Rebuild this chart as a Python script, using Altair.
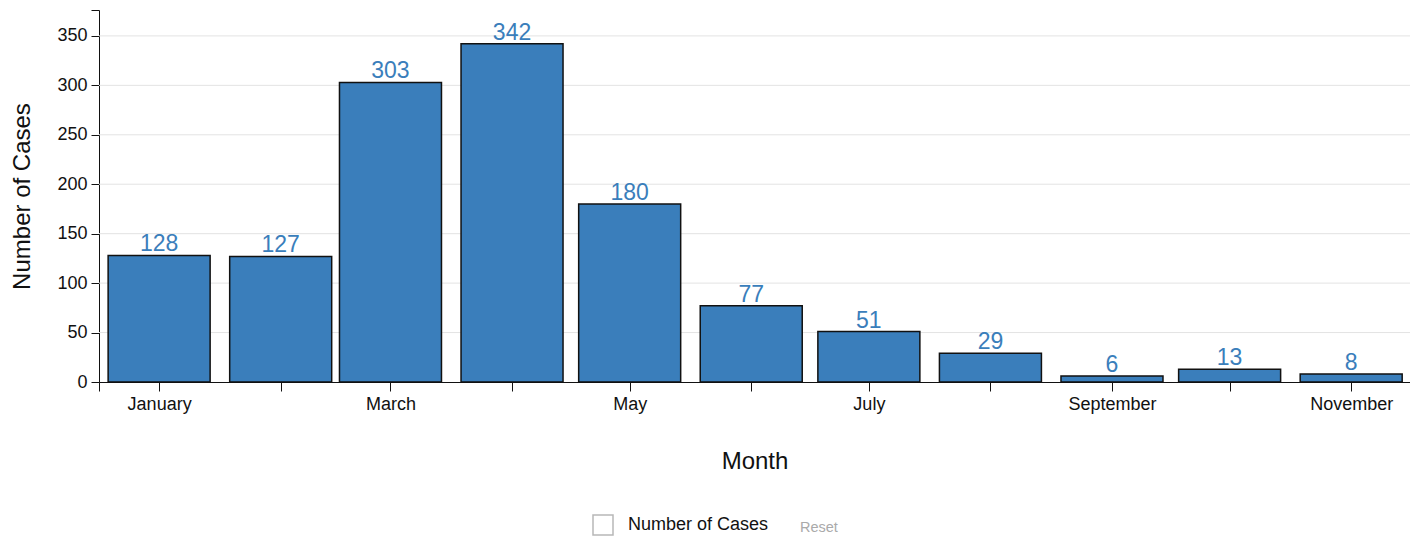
import altair as alt
import pandas as pd

months = ["2019-01-01", "2019-02-01", "2019-03-01", "2019-04-01", "2019-05-01", "2019-06-01",
          "2019-07-01", "2019-08-01", "2019-09-01", "2019-10-01", "2019-11-01"]
cases = [128, 127, 303, 342, 180, 77, 51, 29, 6, 13, 8]
series_name = "Number of Cases"
grid_values = [50, 100, 150, 200, 250, 300, 350]
y_tick_values = [0, 50, 100, 150, 200, 250, 300, 350]

df = pd.DataFrame({"date": months, "cases": cases, "series": [series_name] * len(months)})
grid_df = pd.DataFrame({"g": grid_values})

dom_start = pd.Timestamp("2018-12-16T16:00:00", tz="UTC")
dom_end = pd.Timestamp("2019-11-16T00:00:00", tz="UTC")
to_ms = lambda t: int(t.value // 10**6)
tick_vals = [to_ms(dom_start)] + [to_ms(pd.Timestamp(m, tz="UTC")) for m in months] + [to_ms(dom_end)]

BLUE = "#3a7ebb"
FONT = "Liberation Sans"
INK = "#111111"

x = alt.X(
    "date:T",
    title="Month",
    scale=alt.Scale(type="utc", domain=[to_ms(dom_start), to_ms(dom_end)], nice=False, padding=0),
    axis=alt.Axis(
        values=tick_vals,
        labelExpr="(datum.value > %d && datum.value < %d && utcmonth(datum.value) %% 2 == 0) ? utcFormat(datum.value, '%%B') : ''"
        % (tick_vals[0], tick_vals[-1]),
        grid=False,
        tickSize=9,
        labelPadding=4,
        labelFontSize=18,
        labelColor=INK,
        titleFontSize=24,
        titleFontWeight="normal",
        titlePadding=36,
        titleColor=INK,
        domainColor=INK,
        tickColor=INK,
        labelFont=FONT,
        titleFont=FONT,
        labelFlush=False,
        labelOverlap=False,
    ),
)

ymax = 376.2
y_scale = alt.Scale(domain=[0, ymax], nice=False)
y_axis = alt.Axis(
    values=y_tick_values + [ymax],
    labelExpr="datum.value > 360 ? '' : datum.label",
    grid=False,
    tickSize=8,
    labelPadding=4,
    labelFontSize=18,
    labelColor=INK,
    titleFontSize=24,
    titleFontWeight="normal",
    titlePadding=22,
    titleColor=INK,
    domainColor=INK,
    tickColor=INK,
    labelFont=FONT,
    titleFont=FONT,
)
y = alt.Y("cases:Q", title="Number of Cases", scale=y_scale, axis=y_axis)

grid = alt.Chart(grid_df).mark_rule(color="#e3e3e3", strokeWidth=1).encode(
    y=alt.Y("g:Q", title="Number of Cases", scale=y_scale, axis=y_axis)
)

bars = alt.Chart(df).mark_bar(size=102, stroke=INK, strokeWidth=1.5, fill=BLUE).encode(x=x, y=y)

legend_layer = alt.Chart(df).transform_filter("datum.cases < 0").mark_point(
    filled=False, color="#9a9a9a"
).encode(
    x="date:T",
    y="cases:Q",
    shape=alt.Shape(
        "series:N",
        scale=alt.Scale(domain=[series_name], range=["square"]),
        legend=alt.Legend(
            title=None,
            orient="none",
            legendX=493,
            legendY=504,
            symbolType="square",
            symbolSize=400,
            symbolStrokeWidth=1.5,
            symbolStrokeColor="#9a9a9a",
            symbolFillColor="white",
            labelFontSize=18,
            labelFont=FONT,
            labelColor=INK,
            labelOffset=14,
            padding=0,
        ),
    ),
)

labels = alt.Chart(df).mark_text(
    baseline="alphabetic", dy=-4, fontSize=23, color=BLUE, font=FONT
).encode(x="date:T", y="cases:Q", text="cases:Q")

reset = alt.Chart(pd.DataFrame({"t": ["Reset"]})).mark_text(
    align="left", baseline="middle", fontSize=14.5, color="#aaaaaa", font=FONT
).encode(x=alt.value(701), y=alt.value(518), text="t:N")

chart = alt.layer(grid, bars, labels, legend_layer, reset).properties(
    width=1311,
    height=372,
    autosize=alt.AutoSizeParams(type="none"),
    padding={"left": 91, "top": 2, "right": 0, "bottom": 158},
).configure(background="white").configure_view(stroke=None)

chart.save("out.html", embed_options={"renderer": "svg", "actions": False})
